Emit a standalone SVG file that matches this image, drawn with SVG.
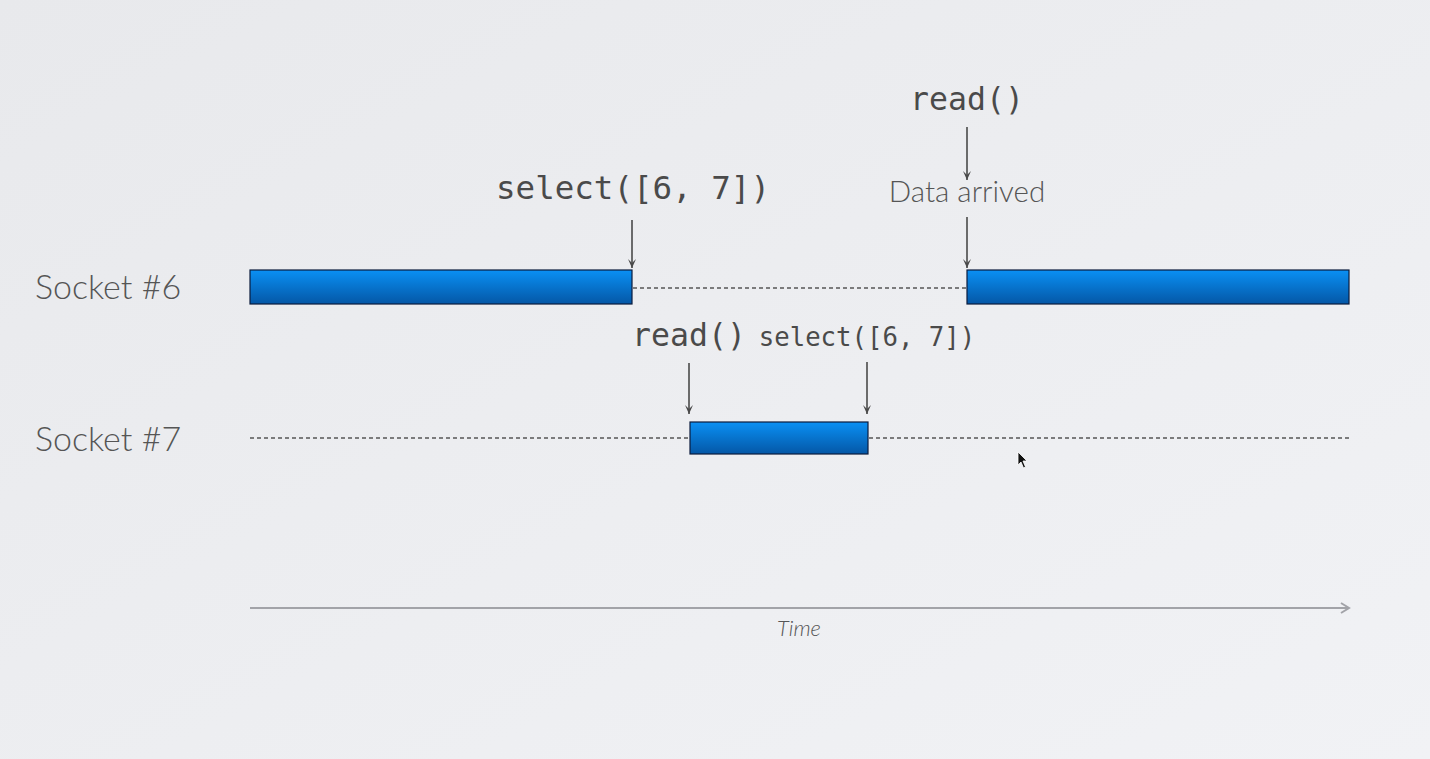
<svg xmlns="http://www.w3.org/2000/svg" width="1430" height="759" viewBox="0 0 1430 759">
<defs>
<linearGradient id="bg" x1="0" y1="0" x2="1" y2="1">
<stop offset="0" stop-color="#e8e9ec"/>
<stop offset="1" stop-color="#f1f2f5"/>
</linearGradient>
<linearGradient id="bar" x1="0" y1="0" x2="0" y2="1">
<stop offset="0" stop-color="#0a90f4"/>
<stop offset="1" stop-color="#0457a6"/>
</linearGradient>
<marker id="ah" markerWidth="10" markerHeight="10" refX="9" refY="5" orient="auto" markerUnits="userSpaceOnUse" viewBox="0 0 10 10">
<path d="M0,1 L9,5 L0,9 L4,5 Z" fill="#4a4a4a"/>
</marker>
<marker id="chev" markerWidth="14" markerHeight="14" refX="12" refY="7" orient="auto" markerUnits="userSpaceOnUse" viewBox="0 0 14 14">
<path d="M4,2 L12,7 L4,12" fill="none" stroke="#a2a3a8" stroke-width="2"/>
</marker>
</defs>
<style>
.lbl{font-family:"Lato","Open Sans","Liberation Sans",sans-serif;font-weight:300;fill:#555;}
.mono{font-family:"DejaVu Sans Mono","Liberation Mono",monospace;fill:#4a4a4a;}
.bar{fill:url(#bar);stroke:#0b1c3c;stroke-width:1.2;}
.dash{stroke:#555;stroke-width:1.5;stroke-dasharray:4,3;fill:none;}
.arr{stroke:#4a4a4a;stroke-width:1.6;fill:none;marker-end:url(#ah);}
</style>
<rect width="1430" height="759" fill="url(#bg)"/>

<g id="socket6">
<text class="lbl" x="35" y="299" font-size="34">Socket #6</text>
<rect class="bar" x="250" y="270" width="382" height="34"/>
<rect class="bar" x="967" y="270" width="382" height="34"/>
</g>
<g id="socket7">
<text class="lbl" x="35" y="451" font-size="34">Socket #7</text>
<rect class="bar" x="690" y="422" width="178" height="32"/>
</g>

<g id="labels">
<text class="mono" x="633" y="199" font-size="32.5" text-anchor="middle">select([6, 7])</text>
<text class="mono" x="967" y="110" font-size="31.5" text-anchor="middle">read()</text>
<text class="lbl" x="967" y="202" font-size="29.5" text-anchor="middle">Data arrived</text>
<text class="mono" x="689" y="346" font-size="31.5" text-anchor="middle">read()</text>
<text class="mono" x="867" y="346" font-size="25.7" text-anchor="middle">select([6, 7])</text>
<text class="lbl" x="799" y="636" font-size="22" font-style="italic" text-anchor="middle">Time</text>
</g>

<g id="connectors">
<line class="dash" x1="633" y1="288" x2="966" y2="288"/>
<line class="dash" x1="250" y1="438" x2="689" y2="438"/>
<line class="dash" x1="869" y1="438" x2="1349" y2="438"/>
<line class="arr" x1="632" y1="220" x2="632" y2="268"/>
<line class="arr" x1="967" y1="127" x2="967" y2="180"/>
<line class="arr" x1="967" y1="217" x2="967" y2="268"/>
<line class="arr" x1="689" y1="363" x2="689" y2="414"/>
<line class="arr" x1="867" y1="362" x2="867" y2="414"/>
<line x1="250" y1="608" x2="1349" y2="608" stroke="#a2a3a8" stroke-width="2" marker-end="url(#chev)"/>
</g>

<g id="cursor">
<path d="M1018,452 L1018,465 L1021,462 L1023.5,468 L1025.5,467 L1023,461 L1027,461 Z" fill="#111" stroke="#fff" stroke-width="0.8"/>
</g>
</svg>
